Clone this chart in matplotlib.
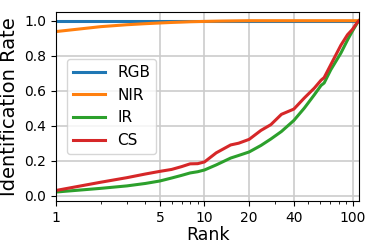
import matplotlib
matplotlib.use("Agg")
import matplotlib.pyplot as plt
from matplotlib.ticker import FixedLocator, FixedFormatter, LogLocator, NullFormatter

# values
rgb_rank = [1, 110]
rgb_rate = [1.0, 1.0]

nir_rank = [1, 2, 3, 4, 5, 6, 7, 8, 10, 13, 16, 20, 110]
nir_rate = [0.938, 0.966, 0.977, 0.983, 0.987, 0.990, 0.992, 0.994, 0.996, 0.998, 0.999, 1.0, 1.0]

curve_rank = [1, 2, 3, 4, 5, 6, 7, 8, 9, 10, 12, 15, 17, 20, 24, 28, 33, 40,
              47, 55, 61, 64, 71, 83, 92, 99, 107, 110]
ir_rate = [0.021, 0.042, 0.056, 0.070, 0.084, 0.101, 0.116, 0.130, 0.137, 0.147,
           0.176, 0.215, 0.230, 0.250, 0.287, 0.324, 0.367, 0.430,
           0.500, 0.577, 0.630, 0.644, 0.720, 0.815, 0.890, 0.939, 0.987, 1.0]
cs_rate = [0.030, 0.077, 0.103, 0.124, 0.139, 0.150, 0.166, 0.182, 0.183, 0.193,
           0.245, 0.290, 0.300, 0.322, 0.373, 0.406, 0.465, 0.495,
           0.558, 0.615, 0.660, 0.675, 0.749, 0.860, 0.920, 0.949, 0.990, 1.0]

xticks = [1, 5, 10, 20, 40, 100]
xtick_labels = ["1", "5", "10", "20", "40", "100"]

fig = plt.figure(figsize=(3.74, 2.49), dpi=100)
ax = fig.add_axes([0.150, 0.193, 0.810, 0.759])

lw = 2.2
ax.plot(rgb_rank, rgb_rate, color="#1f77b4", lw=lw, label="RGB")
ax.plot(nir_rank, nir_rate, color="#ff7f0e", lw=lw, label="NIR")
ax.plot(curve_rank, ir_rate, color="#2ca02c", lw=lw, label="IR")
ax.plot(curve_rank, cs_rate, color="#d62728", lw=lw, label="CS")

ax.set_xscale("log")
ax.set_xlim(1, 110)
ax.set_ylim(-0.03, 1.05)
ax.xaxis.set_major_locator(FixedLocator(xticks))
ax.xaxis.set_major_formatter(FixedFormatter(xtick_labels))
ax.xaxis.set_minor_locator(LogLocator(base=10, subs=range(2, 10)))
ax.xaxis.set_minor_formatter(NullFormatter())
ax.set_yticks([0.0, 0.2, 0.4, 0.6, 0.8, 1.0])

ax.grid(True, which="major", color="#cccccc", lw=1.2)
ax.tick_params(labelsize=10)
ax.set_xlabel("Rank", fontsize=12.5, labelpad=1)
ax.set_ylabel("Identification Rate", fontsize=14, labelpad=4)

ax.legend(loc="center left", fontsize=11, bbox_to_anchor=(0.01, 0.5),
          handlelength=2.1)

fig.savefig("out.png", dpi=100)
